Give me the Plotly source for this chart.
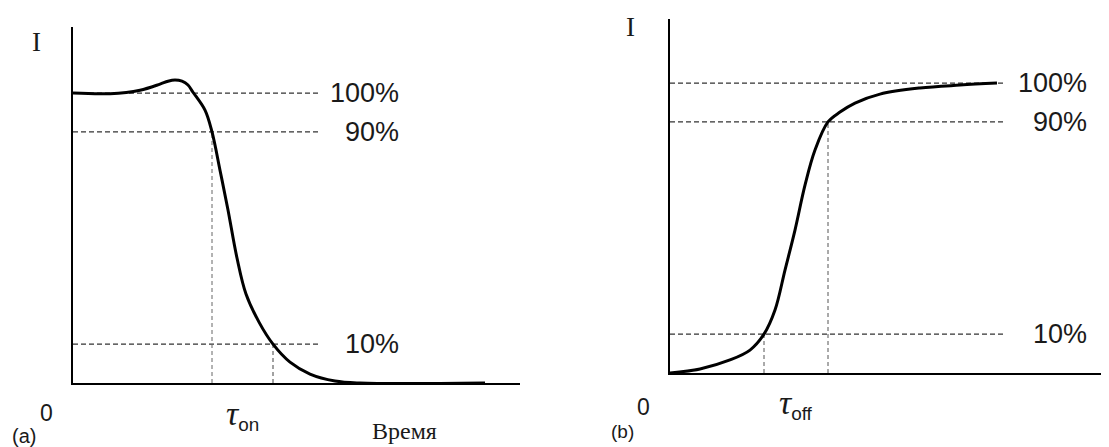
import plotly.graph_objects as go

# page has an 8px body margin; figure coordinates are page pixels minus 8
OFF = 8
WF, HF = 1109 - OFF, 447 - OFF

def X(px):
    return (px - OFF) / WF

def Y(py):
    return 1 - (py - OFF) / HF

# ---- data (arbitrary time units, intensity in % of steady level) ----
levels = [100.0, 86.6, 13.4]
level_labels = ["100%", "90%", "10%"]

# (a) switch-on: intensity falls
on_t = [0, 3.7, 6.7, 8.7, 9.5, 10.2, 10.9, 11.5, 12.0, 13.2, 13.9, 14.7, 15.5, 16.4,
        17.3, 18.6, 20.0, 21.7, 23.7, 26.2, 28.7, 41.2]
on_I = [100, 99.8, 101.0, 103.1, 104.1, 104.5, 104.1, 102.8, 100.3, 94.1, 86.6, 73.4,
        59.7, 43.1, 30.7, 21.0, 13.4, 7.2, 3.1, 0.7, 0, 0]
on_t90, on_t10 = 13.9, 20.0

# (b) switch-off: intensity rises
off_t = [0, 3.0, 6.0, 8.0, 9.4, 10.5, 11.5, 12.5, 13.5, 14.5, 15.8, 17.0, 18.5,
         21.0, 25.0, 29.0, 32.7]
off_I = [0, 1.4, 4.5, 7.9, 13.4, 21.7, 35.5, 49.3, 64.8, 76.9, 86.6, 90.0, 93.1,
         96.2, 98.3, 99.3, 100]
off_t10, off_t90 = 9.4, 15.8

fig = go.Figure()

def dashed(x, y, xa, ya, color="#333333", width=1.2, dash="5px,3px"):
    fig.add_trace(go.Scatter(x=x, y=y, mode="lines", xaxis=xa, yaxis=ya,
                             line=dict(color=color, width=width, dash=dash),
                             hoverinfo="skip"))

# panel (a) guides
for lv in levels:
    dashed([0, 24.5], [lv, lv], "x", "y")
dashed([on_t90, on_t90], [0, levels[1]], "x", "y", color="#666666", width=1, dash="4px,3px")
dashed([on_t10, on_t10], [0, levels[2]], "x", "y", color="#444444", width=1, dash="4px,3px")

# panel (b) guides
for lv in levels:
    dashed([0, 33.6], [lv, lv], "x2", "y2")
dashed([off_t10, off_t10], [0, levels[2]], "x2", "y2", color="#555555", width=1, dash="4px,3px")
dashed([off_t90, off_t90], [0, levels[1]], "x2", "y2", color="#555555", width=1, dash="4px,3px")

fig.add_trace(go.Scatter(x=on_t, y=on_I, mode="lines", xaxis="x", yaxis="y",
                         line=dict(color="black", width=3, shape="spline", smoothing=1.0)))
fig.add_trace(go.Scatter(x=off_t, y=off_I, mode="lines", xaxis="x2", yaxis="y2",
                         line=dict(color="black", width=3, shape="spline", smoothing=1.0)))

ax = dict(showline=True, linecolor="black", linewidth=2, showgrid=False,
          zeroline=False, showticklabels=False, ticks="", fixedrange=True)

fig.update_layout(
    width=WF, height=HF, margin=dict(l=0, r=0, t=0, b=0),
    paper_bgcolor="white", plot_bgcolor="white", showlegend=False,
    xaxis=dict(ax, domain=[X(73), X(520)], range=[0, 44.7], anchor="y"),
    yaxis=dict(ax, domain=[Y(383), Y(27)], range=[0, 122.8], anchor="x"),
    xaxis2=dict(ax, domain=[X(670), 1.0], range=[0, 43.9], anchor="y2"),
    yaxis2=dict(ax, domain=[Y(373), Y(19)], range=[0, 122.1], anchor="x2"),
)

sans = "Liberation Sans, Arial, sans-serif"
serif = "Liberation Serif, Times New Roman, serif"
col = "#1a1a1a"
ann = []

# percent labels
for lv, lab in zip(levels, level_labels):
    ann.append(dict(x=32.8, y=lv, xref="x", yref="y", text=lab, showarrow=False,
                    xanchor="right", yanchor="middle", font=dict(family=sans, size=27, color=col)))
    ann.append(dict(x=41.9, y=lv, xref="x2", yref="y2", text=lab, showarrow=False,
                    xanchor="right", yanchor="middle", font=dict(family=sans, size=27, color=col)))

def pa(text, px, py, family, size, xanchor="center"):
    ann.append(dict(x=X(px), y=Y(py), xref="paper", yref="paper", text=text,
                    showarrow=False, xanchor=xanchor, yanchor="middle",
                    font=dict(family=family, size=size, color=col)))

pa("I", 36, 42, serif, 27)
pa("I", 630, 27, serif, 27)
pa("0", 46, 413, sans, 23)
pa("0", 643, 407, sans, 23)
pa("(a)", 24, 436, sans, 20)
pa("(b)", 622, 431, sans, 19)
pa("Время", 404, 431, serif, 24)

tau_on = '<span style="font-family:Liberation Serif;font-size:34px"><i>τ</i></span><sub>on</sub>'
tau_off = '<span style="font-family:Liberation Serif;font-size:34px"><i>τ</i></span><sub>off</sub>'
ann.append(dict(x=(on_t90 + on_t10) / 2, y=Y(415), xref="x", yref="paper", text=tau_on,
                showarrow=False, xanchor="center", yanchor="middle",
                font=dict(family=sans, size=27, color=col)))
ann.append(dict(x=(off_t10 + off_t90) / 2, y=Y(404), xref="x2", yref="paper", text=tau_off,
                showarrow=False, xanchor="center", yanchor="middle",
                font=dict(family=sans, size=27, color=col)))

fig.update_layout(annotations=ann)
fig.write_html("out.html")
